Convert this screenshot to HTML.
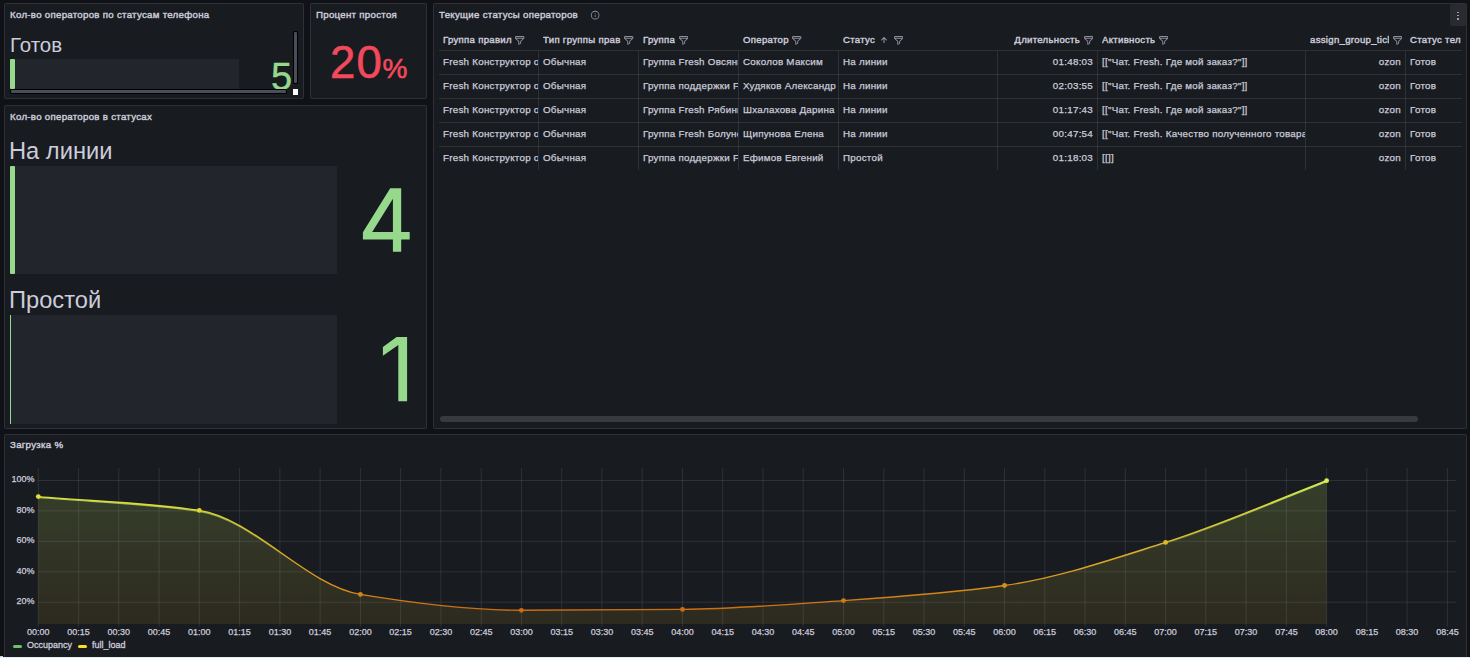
<!DOCTYPE html>
<html><head><meta charset="utf-8">
<style>
*{box-sizing:border-box;margin:0;padding:0}
html,body{width:1470px;height:658px;overflow:hidden;background:#111217;font-family:"Liberation Sans",sans-serif;color:#ccccdc}
.p{position:absolute;background:#181b1f;border:1px solid rgba(204,204,220,0.12);border-radius:2px;overflow:hidden}
.t{position:absolute;left:5px;top:4.5px;font-size:9.7px;font-weight:400;letter-spacing:0.28px;color:#ccccdc;white-space:nowrap;-webkit-text-stroke:0.4px #ccccdc}
.abs{position:absolute}
.lbl{position:absolute;white-space:nowrap;color:#ccccdc}
.bar{position:absolute;background:#22252b}
.g{position:absolute;background:#96d98d;border-radius:1px}
.big{position:absolute;color:#96d98d;white-space:nowrap;line-height:1}
.chart{position:absolute;left:0;top:0}
.chart text{font-family:"Liberation Sans",sans-serif;font-size:9px;fill:#ccccdc;stroke:#ccccdc;stroke-width:0.25px}
table{border-collapse:collapse;table-layout:fixed;position:absolute;left:5px;top:28px}
th,td{white-space:nowrap;overflow:hidden;text-align:left;font-size:10px;height:24px;padding:0 4px;border-bottom:1px solid rgba(204,204,220,0.12)}
th{font-weight:700;font-size:9.5px;height:23px}
td{border-right:1px solid rgba(204,204,220,0.12)}
.r{text-align:right}
.fi{display:inline-block;vertical-align:-2px;margin-left:3.5px}
.ar{display:inline-block;vertical-align:0px;margin-left:5.5px}
.ar+.fi{margin-left:7px}
.th{position:absolute;top:30px;height:16px;white-space:nowrap;overflow:hidden;font-size:9.6px;font-weight:400;letter-spacing:0.3px;-webkit-text-stroke:0.4px #ccccdc;color:#ccccdc;padding-left:4px;padding-right:4px}
.th.r{text-align:right}
.htx{display:inline-block;overflow:hidden;white-space:nowrap;vertical-align:top}
.td{position:absolute;height:23px;line-height:23px;margin-top:-1.2px;white-space:nowrap;overflow:hidden;font-size:9.8px;letter-spacing:0.25px;color:#ccccdc;padding-left:4px;padding-right:4px;-webkit-text-stroke:0.25px #ccccdc}
.td.r{text-align:right}
.hl{position:absolute;height:1px;background:rgba(204,204,220,0.12)}
.vl{position:absolute;width:1px;background:rgba(204,204,220,0.12)}
</style></head><body>
<!-- panel 1 -->
<div class="p" style="left:4px;top:3px;width:300px;height:96px">
  <div class="t">Кол-во операторов по статусам телефона</div>
  <div class="lbl" style="left:5px;top:31px;font-size:20.5px;line-height:1">Готов</div>
  <div class="bar" style="left:5px;top:55px;width:229px;height:30px"></div>
  <div class="g" style="left:5px;top:55px;width:5px;height:30px"></div>
  <div class="big" style="left:266px;top:53.5px;font-size:38px;-webkit-text-stroke:0.4px #96d98d">5</div>
  <div class="abs" style="left:5px;top:85px;width:277px;height:5px;background:#000;border-radius:2px"></div>
  <div class="abs" style="left:6px;top:86px;width:275px;height:3px;background:#4c4d5a;border-radius:1px"></div>
  <div class="abs" style="left:288px;top:27px;width:5px;height:53px;background:#000;border-radius:2px"></div>
  <div class="abs" style="left:289px;top:28px;width:3px;height:51px;background:#4c4d5a;border-radius:1px"></div>
  <div class="abs" style="left:288px;top:85px;width:5px;height:6px;background:#fff"></div>
</div>
<!-- panel 2 -->
<div class="p" style="left:310px;top:3px;width:117px;height:96px">
  <div class="t">Процент простоя</div>
  <div class="big" style="left:19px;top:36px;font-size:45.5px;color:#f2495c;-webkit-text-stroke:0.6px #f2495c;letter-spacing:1.2px">20<span style="font-size:28px;margin-left:-0.5px;letter-spacing:0">%</span></div>
</div>
<!-- panel 3 -->
<div class="p" style="left:4px;top:105px;width:423px;height:324px">
  <div class="t">Кол-во операторов в статусах</div>
  <div class="lbl" style="left:4px;top:33.5px;font-size:23.7px;line-height:1">На линии</div>
  <div class="bar" style="left:5px;top:60px;width:327px;height:108px"></div>
  <div class="g" style="left:5px;top:60px;width:5px;height:108px"></div>
  <svg class="abs" style="left:0;top:0" width="423" height="324" viewBox="5 106 423 324"><path fill-rule="evenodd" fill="#96d98d" d="M390.2,188.3 L401.2,188.3 L401.2,232 L409.7,232 L409.7,239.5 L401.2,239.5 L401.2,251.7 L392.9,251.7 L392.9,239.5 L362.9,239.5 L362.9,232.3 Z M392.9,198.8 L372.2,232 L392.9,232 Z"/><path fill="#96d98d" d="M396.6,337 L407.1,337 L407.1,401.2 L398.3,401.2 L398.3,344.9 L382.9,355.8 L382.9,347 Z"/></svg>
  <div class="lbl" style="left:4px;top:182.5px;font-size:23.7px;line-height:1">Простой</div>
  <div class="bar" style="left:5px;top:209px;width:327px;height:109px"></div>
  <div class="g" style="left:5px;top:209px;width:1.4px;height:109px;border-radius:0"></div>
</div>
<!-- panel 4 table -->
<div class="p" style="left:433px;top:3px;width:1034px;height:426px">
  <div class="t">Текущие статусы операторов</div>
  <div class="th" style="left:5px;width:99px"><span class="htx" style="max-width:300px">Группа правил</span><svg class="fi" width="9.4" height="8.8" viewBox="2 2 20 20" preserveAspectRatio="none"><path fill="#8e8e9e" d="M19,2H5A3,3,0,0,0,2,5V6.17a3,3,0,0,0,.25,1.2l0,.06a2.81,2.81,0,0,0,.59.86L9,14.41V21a1,1,0,0,0,.47.85A1,1,0,0,0,10,22a1,1,0,0,0,.45-.11l4-2A1,1,0,0,0,15,19V14.41l6.12-6.12a2.81,2.81,0,0,0,.59-.86l0-.06A3,3,0,0,0,22,6.17V5A3,3,0,0,0,19,2ZM13.29,13.29A1,1,0,0,0,13,14v4.38l-2,1V14a1,1,0,0,0-.29-.71L5.41,8H18.59ZM20,6H4V5A1,1,0,0,1,5,4H19a1,1,0,0,1,1,1Z"/></svg></div>
<div class="th" style="left:105px;width:99px"><span class="htx" style="max-width:79px">Тип группы прав</span><svg class="fi" width="9.4" height="8.8" viewBox="2 2 20 20" preserveAspectRatio="none"><path fill="#8e8e9e" d="M19,2H5A3,3,0,0,0,2,5V6.17a3,3,0,0,0,.25,1.2l0,.06a2.81,2.81,0,0,0,.59.86L9,14.41V21a1,1,0,0,0,.47.85A1,1,0,0,0,10,22a1,1,0,0,0,.45-.11l4-2A1,1,0,0,0,15,19V14.41l6.12-6.12a2.81,2.81,0,0,0,.59-.86l0-.06A3,3,0,0,0,22,6.17V5A3,3,0,0,0,19,2ZM13.29,13.29A1,1,0,0,0,13,14v4.38l-2,1V14a1,1,0,0,0-.29-.71L5.41,8H18.59ZM20,6H4V5A1,1,0,0,1,5,4H19a1,1,0,0,1,1,1Z"/></svg></div>
<div class="th" style="left:205px;width:99px"><span class="htx" style="max-width:300px">Группа</span><svg class="fi" width="9.4" height="8.8" viewBox="2 2 20 20" preserveAspectRatio="none"><path fill="#8e8e9e" d="M19,2H5A3,3,0,0,0,2,5V6.17a3,3,0,0,0,.25,1.2l0,.06a2.81,2.81,0,0,0,.59.86L9,14.41V21a1,1,0,0,0,.47.85A1,1,0,0,0,10,22a1,1,0,0,0,.45-.11l4-2A1,1,0,0,0,15,19V14.41l6.12-6.12a2.81,2.81,0,0,0,.59-.86l0-.06A3,3,0,0,0,22,6.17V5A3,3,0,0,0,19,2ZM13.29,13.29A1,1,0,0,0,13,14v4.38l-2,1V14a1,1,0,0,0-.29-.71L5.41,8H18.59ZM20,6H4V5A1,1,0,0,1,5,4H19a1,1,0,0,1,1,1Z"/></svg></div>
<div class="th" style="left:305px;width:99px"><span class="htx" style="max-width:300px">Оператор</span><svg class="fi" width="9.4" height="8.8" viewBox="2 2 20 20" preserveAspectRatio="none"><path fill="#8e8e9e" d="M19,2H5A3,3,0,0,0,2,5V6.17a3,3,0,0,0,.25,1.2l0,.06a2.81,2.81,0,0,0,.59.86L9,14.41V21a1,1,0,0,0,.47.85A1,1,0,0,0,10,22a1,1,0,0,0,.45-.11l4-2A1,1,0,0,0,15,19V14.41l6.12-6.12a2.81,2.81,0,0,0,.59-.86l0-.06A3,3,0,0,0,22,6.17V5A3,3,0,0,0,19,2ZM13.29,13.29A1,1,0,0,0,13,14v4.38l-2,1V14a1,1,0,0,0-.29-.71L5.41,8H18.59ZM20,6H4V5A1,1,0,0,1,5,4H19a1,1,0,0,1,1,1Z"/></svg></div>
<div class="th" style="left:405px;width:158px"><span class="htx" style="max-width:300px">Статус</span><svg class="ar" width="6" height="6" viewBox="6 6 12 12"><path fill="#9a9aa8" d="M17.71,11.29l-5-5a1,1,0,0,0-.33-.21,1,1,0,0,0-.76,0,1,1,0,0,0-.33.21l-5,5a1,1,0,0,0,1.420,1.42L11,9.41V17a1,1,0,0,0,2,0V9.41l3.290,3.3a1,1,0,0,0,1.420,0A1,1,0,0,0,17.710,11.29Z"/></svg><svg class="fi" width="9.4" height="8.8" viewBox="2 2 20 20" preserveAspectRatio="none"><path fill="#8e8e9e" d="M19,2H5A3,3,0,0,0,2,5V6.17a3,3,0,0,0,.25,1.2l0,.06a2.81,2.81,0,0,0,.59.86L9,14.41V21a1,1,0,0,0,.47.85A1,1,0,0,0,10,22a1,1,0,0,0,.45-.11l4-2A1,1,0,0,0,15,19V14.41l6.12-6.12a2.81,2.81,0,0,0,.59-.86l0-.06A3,3,0,0,0,22,6.17V5A3,3,0,0,0,19,2ZM13.29,13.29A1,1,0,0,0,13,14v4.38l-2,1V14a1,1,0,0,0-.29-.71L5.41,8H18.59ZM20,6H4V5A1,1,0,0,1,5,4H19a1,1,0,0,1,1,1Z"/></svg></div>
<div class="th r" style="left:564px;width:99px"><span class="htx" style="max-width:79px">Длительность</span><svg class="fi" width="9.4" height="8.8" viewBox="2 2 20 20" preserveAspectRatio="none"><path fill="#8e8e9e" d="M19,2H5A3,3,0,0,0,2,5V6.17a3,3,0,0,0,.25,1.2l0,.06a2.81,2.81,0,0,0,.59.86L9,14.41V21a1,1,0,0,0,.47.85A1,1,0,0,0,10,22a1,1,0,0,0,.45-.11l4-2A1,1,0,0,0,15,19V14.41l6.12-6.12a2.81,2.81,0,0,0,.59-.86l0-.06A3,3,0,0,0,22,6.17V5A3,3,0,0,0,19,2ZM13.29,13.29A1,1,0,0,0,13,14v4.38l-2,1V14a1,1,0,0,0-.29-.71L5.41,8H18.59ZM20,6H4V5A1,1,0,0,1,5,4H19a1,1,0,0,1,1,1Z"/></svg></div>
<div class="th" style="left:664px;width:207px"><span class="htx" style="max-width:300px">Активность</span><svg class="fi" width="9.4" height="8.8" viewBox="2 2 20 20" preserveAspectRatio="none"><path fill="#8e8e9e" d="M19,2H5A3,3,0,0,0,2,5V6.17a3,3,0,0,0,.25,1.2l0,.06a2.81,2.81,0,0,0,.59.86L9,14.41V21a1,1,0,0,0,.47.85A1,1,0,0,0,10,22a1,1,0,0,0,.45-.11l4-2A1,1,0,0,0,15,19V14.41l6.12-6.12a2.81,2.81,0,0,0,.59-.86l0-.06A3,3,0,0,0,22,6.17V5A3,3,0,0,0,19,2ZM13.29,13.29A1,1,0,0,0,13,14v4.38l-2,1V14a1,1,0,0,0-.29-.71L5.41,8H18.59ZM20,6H4V5A1,1,0,0,1,5,4H19a1,1,0,0,1,1,1Z"/></svg></div>
<div class="th r" style="left:872px;width:99px"><span class="htx" style="max-width:79px">assign_group_ticl</span><svg class="fi" width="9.4" height="8.8" viewBox="2 2 20 20" preserveAspectRatio="none"><path fill="#8e8e9e" d="M19,2H5A3,3,0,0,0,2,5V6.17a3,3,0,0,0,.25,1.2l0,.06a2.81,2.81,0,0,0,.59.86L9,14.41V21a1,1,0,0,0,.47.85A1,1,0,0,0,10,22a1,1,0,0,0,.45-.11l4-2A1,1,0,0,0,15,19V14.41l6.12-6.12a2.81,2.81,0,0,0,.59-.86l0-.06A3,3,0,0,0,22,6.17V5A3,3,0,0,0,19,2ZM13.29,13.29A1,1,0,0,0,13,14v4.38l-2,1V14a1,1,0,0,0-.29-.71L5.41,8H18.59ZM20,6H4V5A1,1,0,0,1,5,4H19a1,1,0,0,1,1,1Z"/></svg></div>
<div class="th" style="left:972px;width:55px;padding-right:0"><span class="htx" style="max-width:300px">Статус теле</span></div>
<div class="hl" style="left:5px;top:46px;width:1023px"></div>
<div class="td" style="left:5px;top:47px;width:99px">Fresh Конструктор операторов</div>
<div class="td" style="left:105px;top:47px;width:99px">Обычная</div>
<div class="td" style="left:205px;top:47px;width:99px">Группа Fresh Овсянникова</div>
<div class="td" style="left:305px;top:47px;width:99px">Соколов Максим</div>
<div class="td" style="left:405px;top:47px;width:158px">На линии</div>
<div class="td r" style="left:564px;top:47px;width:99px">01:48:03</div>
<div class="td" style="left:664px;top:47px;width:207px">[["Чат. Fresh. Где мой заказ?"]]</div>
<div class="td r" style="left:872px;top:47px;width:99px">ozon</div>
<div class="td" style="left:972px;top:47px;width:55px;padding-right:0">Готов</div>
<div class="hl" style="left:5px;top:70px;width:1023px"></div>
<div class="td" style="left:5px;top:71px;width:99px">Fresh Конструктор операторов</div>
<div class="td" style="left:105px;top:71px;width:99px">Обычная</div>
<div class="td" style="left:205px;top:71px;width:99px">Группа поддержки Fresh</div>
<div class="td" style="left:305px;top:71px;width:99px">Худяков Александр</div>
<div class="td" style="left:405px;top:71px;width:158px">На линии</div>
<div class="td r" style="left:564px;top:71px;width:99px">02:03:55</div>
<div class="td" style="left:664px;top:71px;width:207px">[["Чат. Fresh. Где мой заказ?"]]</div>
<div class="td r" style="left:872px;top:71px;width:99px">ozon</div>
<div class="td" style="left:972px;top:71px;width:55px;padding-right:0">Готов</div>
<div class="hl" style="left:5px;top:94px;width:1023px"></div>
<div class="td" style="left:5px;top:95px;width:99px">Fresh Конструктор операторов</div>
<div class="td" style="left:105px;top:95px;width:99px">Обычная</div>
<div class="td" style="left:205px;top:95px;width:99px">Группа Fresh Рябинина</div>
<div class="td" style="left:305px;top:95px;width:99px">Шхалахова Дарина</div>
<div class="td" style="left:405px;top:95px;width:158px">На линии</div>
<div class="td r" style="left:564px;top:95px;width:99px">01:17:43</div>
<div class="td" style="left:664px;top:95px;width:207px">[["Чат. Fresh. Где мой заказ?"]]</div>
<div class="td r" style="left:872px;top:95px;width:99px">ozon</div>
<div class="td" style="left:972px;top:95px;width:55px;padding-right:0">Готов</div>
<div class="hl" style="left:5px;top:118px;width:1023px"></div>
<div class="td" style="left:5px;top:119px;width:99px">Fresh Конструктор операторов</div>
<div class="td" style="left:105px;top:119px;width:99px">Обычная</div>
<div class="td" style="left:205px;top:119px;width:99px">Группа Fresh Болунева</div>
<div class="td" style="left:305px;top:119px;width:99px">Щипунова Елена</div>
<div class="td" style="left:405px;top:119px;width:158px">На линии</div>
<div class="td r" style="left:564px;top:119px;width:99px">00:47:54</div>
<div class="td" style="left:664px;top:119px;width:207px">[["Чат. Fresh. Качество полученного товара"]]</div>
<div class="td r" style="left:872px;top:119px;width:99px">ozon</div>
<div class="td" style="left:972px;top:119px;width:55px;padding-right:0">Готов</div>
<div class="hl" style="left:5px;top:142px;width:1023px"></div>
<div class="td" style="left:5px;top:143px;width:99px">Fresh Конструктор операторов</div>
<div class="td" style="left:105px;top:143px;width:99px">Обычная</div>
<div class="td" style="left:205px;top:143px;width:99px">Группа поддержки Fresh</div>
<div class="td" style="left:305px;top:143px;width:99px">Ефимов Евгений</div>
<div class="td" style="left:405px;top:143px;width:158px">Простой</div>
<div class="td r" style="left:564px;top:143px;width:99px">01:18:03</div>
<div class="td" style="left:664px;top:143px;width:207px">[[]]</div>
<div class="td r" style="left:872px;top:143px;width:99px">ozon</div>
<div class="td" style="left:972px;top:143px;width:55px;padding-right:0">Готов</div>
<div class="vl" style="left:104px;top:47px;height:119px"></div>
<div class="vl" style="left:204px;top:47px;height:119px"></div>
<div class="vl" style="left:304px;top:47px;height:119px"></div>
<div class="vl" style="left:404px;top:47px;height:119px"></div>
<div class="vl" style="left:563px;top:47px;height:119px"></div>
<div class="vl" style="left:663px;top:47px;height:119px"></div>
<div class="vl" style="left:871px;top:47px;height:119px"></div>
<div class="vl" style="left:971px;top:47px;height:119px"></div>
  <div class="abs" style="left:6px;top:412px;width:978px;height:6px;background:#393a3f;border-radius:3px"></div>
  <div class="abs" style="left:1016px;top:0px;width:16px;height:22px;background:#292b30;border-radius:2px"></div>
  <div class="abs" style="left:1023px;top:7.7px;width:1.8px;height:1.5px;background:#9c9ca8"></div>
  <div class="abs" style="left:1023px;top:10.9px;width:1.8px;height:1.5px;background:#9c9ca8"></div>
  <div class="abs" style="left:1023px;top:14.1px;width:1.8px;height:1.5px;background:#9c9ca8"></div>
  <svg class="abs" style="left:155.75px;top:6.35px" width="10.3" height="10.3" viewBox="0 0 24 24"><path fill="#8e8e9e" d="M12,2A10,10,0,1,0,22,12,10,10,0,0,0,12,2Zm0,18a8,8,0,1,1,8-8A8,8,0,0,1,12,20Zm0-8.5a1,1,0,0,0-1,1v3a1,1,0,0,0,2,0v-3A1,1,0,0,0,12,11.5Zm0-4a1.25,1.25,0,1,0,1.25,1.25A1.25,1.25,0,0,0,12,7.5Z"/></svg>
</div>
<!-- panel 5 chart -->
<div class="p" style="left:4px;top:434px;width:1463px;height:240px">
  <div class="t" style="top:4px">Загрузка %</div>
  <div class="abs" style="left:8px;top:209.5px;width:9px;height:3.5px;border-radius:2px;background:#73bf69"></div>
  <div class="lbl" style="left:22px;top:205px;font-size:9px;-webkit-text-stroke:0.3px #ccccdc">Occupancy</div>
  <div class="abs" style="left:73px;top:209.5px;width:9px;height:3.5px;border-radius:2px;background:#fade2a"></div>
  <div class="lbl" style="left:87px;top:205px;font-size:9px;-webkit-text-stroke:0.3px #ccccdc">full_load</div>
</div>
<svg class="chart" width="1470" height="658" viewBox="0 0 1470 658">
<defs>
<linearGradient id="lg" gradientUnits="userSpaceOnUse" x1="0" y1="480" x2="0" y2="612">
<stop offset="0" stop-color="#dceb50"/>
<stop offset="0.1" stop-color="#e2e23a"/>
<stop offset="0.23" stop-color="#e3d52c"/>
<stop offset="0.47" stop-color="#deb92a"/>
<stop offset="0.80" stop-color="#d8901c"/>
<stop offset="1" stop-color="#c96a10"/>
</linearGradient>
<linearGradient id="gg" gradientUnits="userSpaceOnUse" x1="0" y1="480" x2="0" y2="560">
<stop offset="0" stop-color="#b6e872" stop-opacity="1"/>
<stop offset="0.5" stop-color="#b6e872" stop-opacity="0.6"/>
<stop offset="1" stop-color="#b6e872" stop-opacity="0"/>
</linearGradient>
<linearGradient id="fg" gradientUnits="userSpaceOnUse" x1="0" y1="480" x2="0" y2="624">
<stop offset="0" stop-color="#363f2b"/>
<stop offset="1" stop-color="#2d2a1f"/>
</linearGradient>
</defs>
<path d="M38.3,496.6 C92.0,501.2 145.7,502.5 199.3,510.4 C253.0,518.3 306.7,585.5 360.4,594.4 C414.1,603.3 467.7,610.3 521.4,610.3 C575.1,610.3 628.8,609.9 682.5,609.4 C736.1,608.9 789.8,604.3 843.5,600.6 C897.2,596.9 950.9,593.0 1004.5,585.5 C1058.2,578.0 1111.9,559.3 1165.6,542.4 C1219.3,525.5 1272.9,501.3 1326.6,480.7 L1326.6,624 L38.3,624 Z" fill="url(#fg)"/>
<g stroke="rgba(204,204,220,0.12)" stroke-width="1"><line x1="38.3" y1="468" x2="38.3" y2="626.5"/><line x1="78.6" y1="468" x2="78.6" y2="626.5"/><line x1="118.8" y1="468" x2="118.8" y2="626.5"/><line x1="159.1" y1="468" x2="159.1" y2="626.5"/><line x1="199.3" y1="468" x2="199.3" y2="626.5"/><line x1="239.6" y1="468" x2="239.6" y2="626.5"/><line x1="279.9" y1="468" x2="279.9" y2="626.5"/><line x1="320.1" y1="468" x2="320.1" y2="626.5"/><line x1="360.4" y1="468" x2="360.4" y2="626.5"/><line x1="400.6" y1="468" x2="400.6" y2="626.5"/><line x1="440.9" y1="468" x2="440.9" y2="626.5"/><line x1="481.2" y1="468" x2="481.2" y2="626.5"/><line x1="521.4" y1="468" x2="521.4" y2="626.5"/><line x1="561.7" y1="468" x2="561.7" y2="626.5"/><line x1="601.9" y1="468" x2="601.9" y2="626.5"/><line x1="642.2" y1="468" x2="642.2" y2="626.5"/><line x1="682.5" y1="468" x2="682.5" y2="626.5"/><line x1="722.7" y1="468" x2="722.7" y2="626.5"/><line x1="763.0" y1="468" x2="763.0" y2="626.5"/><line x1="803.2" y1="468" x2="803.2" y2="626.5"/><line x1="843.5" y1="468" x2="843.5" y2="626.5"/><line x1="883.8" y1="468" x2="883.8" y2="626.5"/><line x1="924.0" y1="468" x2="924.0" y2="626.5"/><line x1="964.3" y1="468" x2="964.3" y2="626.5"/><line x1="1004.5" y1="468" x2="1004.5" y2="626.5"/><line x1="1044.8" y1="468" x2="1044.8" y2="626.5"/><line x1="1085.1" y1="468" x2="1085.1" y2="626.5"/><line x1="1125.3" y1="468" x2="1125.3" y2="626.5"/><line x1="1165.6" y1="468" x2="1165.6" y2="626.5"/><line x1="1205.8" y1="468" x2="1205.8" y2="626.5"/><line x1="1246.1" y1="468" x2="1246.1" y2="626.5"/><line x1="1286.4" y1="468" x2="1286.4" y2="626.5"/><line x1="1326.6" y1="468" x2="1326.6" y2="626.5"/><line x1="1366.9" y1="468" x2="1366.9" y2="626.5"/><line x1="1407.1" y1="468" x2="1407.1" y2="626.5"/><line x1="1447.4" y1="468" x2="1447.4" y2="626.5"/><line x1="38" y1="480.5" x2="1456" y2="480.5"/><line x1="38" y1="510.9" x2="1456" y2="510.9"/><line x1="38" y1="541.3" x2="1456" y2="541.3"/><line x1="38" y1="571.8" x2="1456" y2="571.8"/><line x1="38" y1="602.2" x2="1456" y2="602.2"/></g>
<path d="M38.3,496.6 C92.0,501.2 145.7,502.5 199.3,510.4 C253.0,518.3 306.7,585.5 360.4,594.4 C414.1,603.3 467.7,610.3 521.4,610.3 C575.1,610.3 628.8,609.9 682.5,609.4 C736.1,608.9 789.8,604.3 843.5,600.6 C897.2,596.9 950.9,593.0 1004.5,585.5 C1058.2,578.0 1111.9,559.3 1165.6,542.4 C1219.3,525.5 1272.9,501.3 1326.6,480.7" fill="none" stroke="url(#gg)" stroke-width="1.4" transform="translate(0,0.8)"/>
<path d="M38.3,496.6 C92.0,501.2 145.7,502.5 199.3,510.4 C253.0,518.3 306.7,585.5 360.4,594.4 C414.1,603.3 467.7,610.3 521.4,610.3 C575.1,610.3 628.8,609.9 682.5,609.4 C736.1,608.9 789.8,604.3 843.5,600.6 C897.2,596.9 950.9,593.0 1004.5,585.5 C1058.2,578.0 1111.9,559.3 1165.6,542.4 C1219.3,525.5 1272.9,501.3 1326.6,480.7" fill="none" stroke="url(#lg)" stroke-width="1.4"/>
<g fill="url(#lg)"><circle cx="38.3" cy="496.6" r="2.4"/><circle cx="199.3" cy="510.4" r="2.4"/><circle cx="360.4" cy="594.4" r="2.4"/><circle cx="521.4" cy="610.3" r="2.4"/><circle cx="682.5" cy="609.4" r="2.4"/><circle cx="843.5" cy="600.6" r="2.4"/><circle cx="1004.5" cy="585.5" r="2.4"/><circle cx="1165.6" cy="542.4" r="2.4"/><circle cx="1326.6" cy="480.7" r="2.4"/></g>
<g class="xl" text-anchor="middle"><text x="38.3" y="635">00:00</text><text x="78.6" y="635">00:15</text><text x="118.8" y="635">00:30</text><text x="159.1" y="635">00:45</text><text x="199.3" y="635">01:00</text><text x="239.6" y="635">01:15</text><text x="279.9" y="635">01:30</text><text x="320.1" y="635">01:45</text><text x="360.4" y="635">02:00</text><text x="400.6" y="635">02:15</text><text x="440.9" y="635">02:30</text><text x="481.2" y="635">02:45</text><text x="521.4" y="635">03:00</text><text x="561.7" y="635">03:15</text><text x="601.9" y="635">03:30</text><text x="642.2" y="635">03:45</text><text x="682.5" y="635">04:00</text><text x="722.7" y="635">04:15</text><text x="763.0" y="635">04:30</text><text x="803.2" y="635">04:45</text><text x="843.5" y="635">05:00</text><text x="883.8" y="635">05:15</text><text x="924.0" y="635">05:30</text><text x="964.3" y="635">05:45</text><text x="1004.5" y="635">06:00</text><text x="1044.8" y="635">06:15</text><text x="1085.1" y="635">06:30</text><text x="1125.3" y="635">06:45</text><text x="1165.6" y="635">07:00</text><text x="1205.8" y="635">07:15</text><text x="1246.1" y="635">07:30</text><text x="1286.4" y="635">07:45</text><text x="1326.6" y="635">08:00</text><text x="1366.9" y="635">08:15</text><text x="1407.1" y="635">08:30</text><text x="1447.4" y="635">08:45</text></g>
<g class="yl" text-anchor="end" style="font-size:8.8px"><text x="34.6" y="482.2">100%</text><text x="34.6" y="512.6">80%</text><text x="34.6" y="543.0">60%</text><text x="34.6" y="573.5">40%</text><text x="34.6" y="603.9">20%</text></g>
</svg>
<div class="abs" style="left:0;top:657px;width:1470px;height:1px;background:#e4ecf4"></div>
<div class="abs" style="left:0;top:656px;width:3px;height:1px;background:#c8d0d8"></div>
</body></html>
